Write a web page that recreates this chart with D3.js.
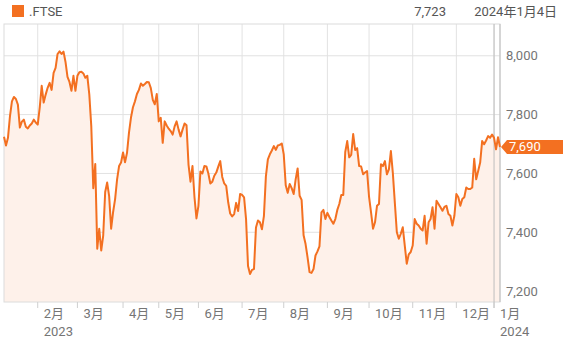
<!DOCTYPE html>
<html>
<head>
<meta charset="utf-8">
<script src="https://cdn.jsdelivr.net/npm/d3@7"></script>
<style>
  body { margin: 0; background: #fff; }
  text { font-family: Roboto, "Noto Sans CJK JP", sans-serif; }
</style>
</head>
<body>
<svg width="567" height="338"></svg>
<script>
// daily closes, 9 Jan 2023 .. 5 Jan 2024
var closes = [
  // Jan
  7725, 7695, 7721, 7794, 7845, 7860, 7853, 7834, 7756, 7776, 7783, 7759, 7753, 7763, 7770, 7783, 7773,
  // Feb
  7766, 7824, 7898, 7841, 7868, 7891, 7908, 7884, 7942, 7959, 8006, 8015, 8006, 8014, 7979, 7928, 7911, 7881, 7932, 7881,
  // Mar
  7932, 7944, 7946, 7940, 7925, 7932, 7868, 7759, 7550, 7632, 7344, 7412, 7338, 7389, 7537, 7569, 7523, 7412, 7469, 7513, 7580, 7625, 7637,
  // Apr
  7671, 7638, 7670, 7739, 7790, 7825, 7845, 7870, 7884, 7906, 7898, 7904, 7911, 7910, 7890, 7850, 7835, 7870,
  // May
  7777, 7789, 7704, 7777, 7763, 7752, 7744, 7732, 7760, 7777, 7749, 7726, 7749, 7770, 7764, 7630, 7572, 7625, 7520, 7447,
  // Jun
  7490, 7607, 7600, 7625, 7624, 7600, 7566, 7572, 7592, 7603, 7623, 7642, 7588, 7566, 7558, 7502, 7464, 7454, 7462, 7500, 7472, 7530,
  // Jul
  7527, 7519, 7445, 7285, 7258, 7272, 7275, 7416, 7440, 7434, 7410, 7455, 7590, 7648, 7665, 7678, 7693, 7680, 7695, 7697, 7702,
  // Aug
  7665, 7560, 7534, 7564, 7550, 7530, 7580, 7617, 7524, 7510, 7390, 7360, 7315, 7265, 7262, 7275, 7321, 7335, 7352, 7468, 7476, 7445,
  // Sep
  7466, 7452, 7440, 7429, 7445, 7476, 7496, 7527, 7527, 7673, 7710, 7655, 7663, 7734, 7680, 7686, 7625, 7624, 7597, 7603, 7608,
  // Oct
  7520, 7468, 7412, 7434, 7490, 7496, 7631, 7625, 7642, 7597, 7614, 7676, 7600, 7500, 7400, 7378, 7395, 7417, 7355, 7293, 7325, 7333,
  // Nov
  7355, 7445, 7429, 7423, 7412, 7406, 7456, 7361, 7434, 7445, 7485, 7412, 7507, 7496, 7485, 7473, 7486, 7490, 7462, 7456, 7423, 7456,
  // Dec
  7530, 7519, 7490, 7513, 7519, 7552, 7547, 7547, 7552, 7650, 7580, 7608, 7637, 7710, 7699, 7712, 7727, 7721, 7732,
  // Jan 2024
  7721, 7682, 7723, 7690
];

// trading days in each month shown (Jan 2023 partial .. Jan 2024 partial)
var monthDays = [17, 20, 23, 18, 20, 22, 21, 22, 21, 22, 22, 19, 4];
var monthNames = ["2月", "3月", "4月", "5月", "6月", "7月", "8月", "9月", "10月", "11月", "12月", "1月"];
var yearNames = ["2023", "2024"];
var yTicks = [7200, 7400, 7600, 7800, 8000];

var symbol = ".FTSE";
var hoverValue = "7,723";
var hoverDate = "2024年1月4日";

var orange = "#f37021";

function draw() {
  var svg = d3.select("svg");
  var left = 4, right = 500, top = 24, bottom = 302;

  var x = d3.scaleLinear().domain([0, closes.length - 1]).range([left, right]);
  var y = d3.scaleLinear().domain([7163, 8108]).range([bottom, top]);

  // first trading day index of each month
  var starts = Array.from(d3.cumsum(monthDays)).slice(0, monthNames.length);
  var hoverIdx = starts[starts.length - 1];

  // grid
  svg.append("g").selectAll("line").data(starts).enter().append("line")
    .attr("x1", function(d){ return x(d); }).attr("x2", function(d){ return x(d); })
    .attr("y1", top).attr("y2", bottom)
    .attr("stroke", "#e2e2e2");
  svg.append("g").selectAll("line").data(yTicks).enter().append("line")
    .attr("x1", left).attr("x2", right)
    .attr("y1", function(d){ return y(d); }).attr("y2", function(d){ return y(d); })
    .attr("stroke", "#e2e2e2");

  // area + line
  var area = d3.area()
    .x(function(d, i){ return x(i); })
    .y0(bottom)
    .y1(function(d){ return y(d); });
  var line = d3.line()
    .x(function(d, i){ return x(i); })
    .y(function(d){ return y(d); });

  svg.append("path").datum(closes)
    .attr("d", area)
    .attr("fill", "#fef1ea");

  // frame
  svg.append("rect")
    .attr("x", left).attr("y", top)
    .attr("width", right - left).attr("height", bottom - top)
    .attr("fill", "none").attr("stroke", "#dcdcdc");
  svg.append("line")
    .attr("x1", right).attr("x2", right).attr("y1", top).attr("y2", bottom)
    .attr("stroke", "#bdbdbd");

  // hover line
  svg.append("line")
    .attr("x1", x(hoverIdx)).attr("x2", x(hoverIdx))
    .attr("y1", top).attr("y2", bottom + 6)
    .attr("stroke", "#bdbdbd");

  svg.append("path").datum(closes)
    .attr("d", line)
    .attr("fill", "none")
    .attr("stroke", orange)
    .attr("stroke-width", 2)
    .attr("stroke-linejoin", "round");

  // x axis ticks and labels
  var xa = svg.append("g");
  xa.selectAll("line").data(starts).enter().append("line")
    .attr("x1", function(d){ return x(d); }).attr("x2", function(d){ return x(d); })
    .attr("y1", bottom).attr("y2", bottom + 6)
    .attr("stroke", "#cfcfcf");
  xa.selectAll("text.m").data(starts).enter().append("text")
    .attr("class", "m")
    .attr("x", function(d){ return x(d) + 6; })
    .attr("y", 318)
    .attr("font-size", 13)
    .attr("fill", "#757575")
    .text(function(d, i){ return monthNames[i]; });
  xa.selectAll("text.yr").data([starts[0], starts[starts.length - 1]]).enter().append("text")
    .attr("class", "yr")
    .attr("x", function(d){ return x(d) + 6; })
    .attr("y", 336)
    .attr("font-size", 13)
    .attr("fill", "#757575")
    .text(function(d, i){ return yearNames[i]; });

  // y axis labels
  svg.append("g").selectAll("text").data(yTicks).enter().append("text")
    .attr("x", 506)
    .attr("y", function(d){ return y(d) + 4.5; })
    .attr("font-size", 13)
    .attr("fill", "#757575")
    .text(d3.format(","));

  // last price marker
  var last = closes[closes.length - 1];
  var ly = y(last);
  svg.append("path")
    .attr("d", "M" + (right + 1) + "," + ly + "L" + (right + 7) + "," + (ly - 7) +
      "H563V" + (ly + 7) + "H" + (right + 7) + "Z")
    .attr("fill", orange);
  svg.append("text")
    .attr("x", 509).attr("y", ly + 4.5)
    .attr("font-size", 13)
    .attr("fill", "#fff")
    .text(d3.format(",.0f")(last));

  // header
  svg.append("rect").attr("x", 12).attr("y", 5).attr("width", 12).attr("height", 12).attr("fill", orange);
  svg.append("text").attr("x", 29).attr("y", 16).attr("font-size", 13).attr("fill", "#555").text(symbol);
  svg.append("text").attr("x", 446).attr("y", 16).attr("font-size", 13).attr("fill", "#555")
    .attr("text-anchor", "end").text(hoverValue);
  svg.append("text").attr("x", 557).attr("y", 16).attr("font-size", 13).attr("fill", "#555")
    .attr("text-anchor", "end").text(hoverDate);
}

window.addEventListener('DOMContentLoaded', draw);
</script>
</body>
</html>
